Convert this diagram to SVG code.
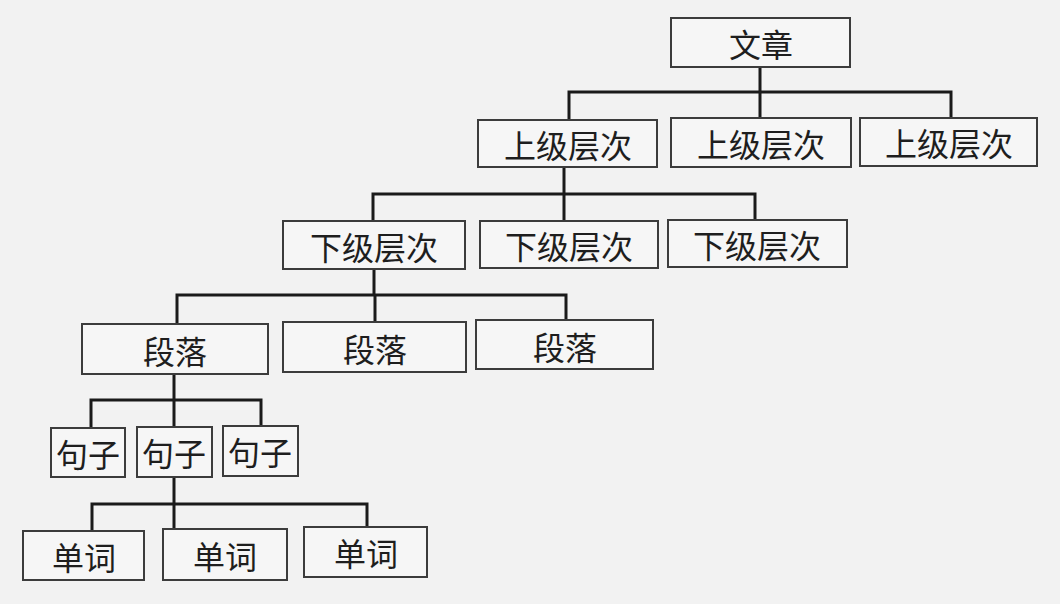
<svg xmlns="http://www.w3.org/2000/svg" width="1060" height="604" viewBox="0 0 1060 604">
<style>
.box{fill:#f6f6f6;stroke:#3c3c3c;stroke-width:2}
.lbl{font-family:"Noto Sans CJK SC","Noto Sans",sans-serif;font-size:32px;fill:#1e1e1e;text-anchor:middle;dominant-baseline:central}
.con{fill:none;stroke:#1a1a1a;stroke-width:3;stroke-linecap:square}
</style>
<rect x="0" y="0" width="1060" height="604" fill="#f2f2f2"/>
<g id="connectors" class="con">
<path d="M760 67V92M569 92H951M569 92V120M760 92V118M951 92V118"/>
<path d="M564 167V194M373 194H755M373 194V221M564 194V221M755 194V220"/>
<path d="M374 269V295M177 295H566M177 295V324M375 295V322M566 295V320"/>
<path d="M174 374V400M91 400H261M91 400V428M174 400V427M261 400V426"/>
<path d="M174 477V504M92 504H367M92 504V531M174 504V529M367 504V527"/>
</g>
<g id="n-wenzhang"><rect class="box" x="671" y="18" width="179" height="49"/><text class="lbl" x="761" y="43">文章</text></g>
<g id="n-shang1"><rect class="box" x="478" y="120" width="179" height="47"/><text class="lbl" x="568" y="144">上级层次</text></g>
<g id="n-shang2"><rect class="box" x="671" y="118" width="180" height="49"/><text class="lbl" x="761" y="143">上级层次</text></g>
<g id="n-shang3"><rect class="box" x="860" y="118" width="177" height="48"/><text class="lbl" x="949" y="142">上级层次</text></g>
<g id="n-xia1"><rect class="box" x="283" y="221" width="182" height="48"/><text class="lbl" x="374" y="246">下级层次</text></g>
<g id="n-xia2"><rect class="box" x="480" y="221" width="178" height="47"/><text class="lbl" x="569" y="245">下级层次</text></g>
<g id="n-xia3"><rect class="box" x="668" y="220" width="179" height="47"/><text class="lbl" x="757" y="244">下级层次</text></g>
<g id="n-duan1"><rect class="box" x="82" y="324" width="186" height="50"/><text class="lbl" x="175" y="350">段落</text></g>
<g id="n-duan2"><rect class="box" x="283" y="322" width="183" height="50"/><text class="lbl" x="375" y="348">段落</text></g>
<g id="n-duan3"><rect class="box" x="476" y="320" width="177" height="49"/><text class="lbl" x="565" y="346">段落</text></g>
<g id="n-ju1"><rect class="box" x="51" y="428" width="74" height="49"/><text class="lbl" x="88" y="453">句子</text></g>
<g id="n-ju2"><rect class="box" x="137" y="427" width="75" height="50"/><text class="lbl" x="174" y="452">句子</text></g>
<g id="n-ju3"><rect class="box" x="223" y="426" width="75" height="50"/><text class="lbl" x="260" y="451">句子</text></g>
<g id="n-ci1"><rect class="box" x="23" y="531" width="121" height="49"/><text class="lbl" x="84" y="556">单词</text></g>
<g id="n-ci2"><rect class="box" x="163" y="529" width="124" height="51"/><text class="lbl" x="225" y="555">单词</text></g>
<g id="n-ci3"><rect class="box" x="304" y="527" width="123" height="50"/><text class="lbl" x="366" y="552">单词</text></g>
</svg>
